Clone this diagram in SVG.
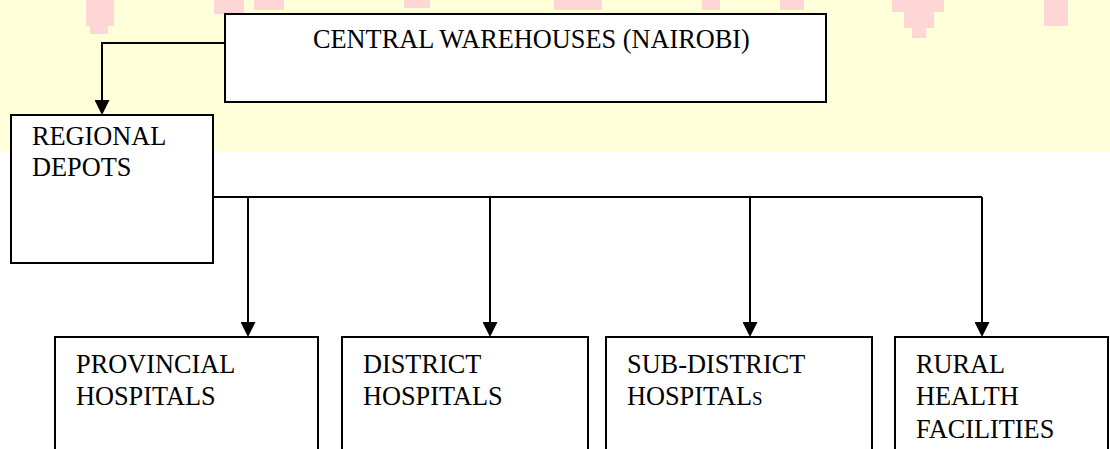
<svg xmlns="http://www.w3.org/2000/svg" width="1110" height="449" viewBox="0 0 1110 449">
  <style>
    .box { fill: #ffffff; stroke: #000000; stroke-width: 2; }
    .lbl { font-family: "Liberation Serif", "Times New Roman", Times, "DejaVu Serif", serif; font-size: 26.3px; fill: #000000; }
    .conn { fill: none; stroke: #000000; stroke-width: 2; }
    .wm { fill: #ffd6d6; }
  </style>
  <defs>
    <marker id="arr" viewBox="0 0 15 15" refX="13" refY="7.5" markerWidth="15" markerHeight="15" markerUnits="userSpaceOnUse" orient="auto">
      <path d="M0,0 L15,7.5 L0,15 Z" fill="#000000"/>
    </marker>
  </defs>

  <rect x="0" y="0" width="1110" height="449" fill="#ffffff"/>
  <rect x="0" y="0" width="1110" height="151" fill="#ffffda"/>
  <g id="watermark">
    <rect class="wm" x="86" y="0" width="28" height="26"/>
    <rect class="wm" x="90" y="26" width="18" height="8"/>
    <rect class="wm" x="214" y="0" width="30" height="14"/>
    <rect class="wm" x="254" y="0" width="30" height="10"/>
    <rect class="wm" x="404" y="0" width="26" height="8"/>
    <rect class="wm" x="554" y="0" width="48" height="10"/>
    <rect class="wm" x="702" y="0" width="18" height="10"/>
    <rect class="wm" x="780" y="0" width="24" height="10"/>
    <rect class="wm" x="892" y="0" width="52" height="12"/>
    <rect class="wm" x="904" y="12" width="30" height="16"/>
    <rect class="wm" x="912" y="28" width="14" height="10"/>
    <rect class="wm" x="1044" y="0" width="24" height="26"/>
  </g>

  <g id="connectors">
    <path class="conn" d="M225,43 H102 V113" marker-end="url(#arr)"/>
    <path class="conn" d="M213,197 H982"/>
    <path class="conn" d="M248,197 V335" marker-end="url(#arr)"/>
    <path class="conn" d="M490,197 V335" marker-end="url(#arr)"/>
    <path class="conn" d="M750,197 V335" marker-end="url(#arr)"/>
    <path class="conn" d="M982,197 V335" marker-end="url(#arr)"/>
  </g>

  <g id="central">
    <rect class="box" x="225" y="14" width="601" height="88"/>
    <text class="lbl" x="313" y="48">CENTRAL WAREHOUSES (NAIROBI)</text>
  </g>

  <g id="regional">
    <rect class="box" x="11" y="115" width="202" height="148"/>
    <text class="lbl" x="32" y="145">REGIONAL</text>
    <text class="lbl" x="32" y="176">DEPOTS</text>
  </g>

  <g id="provincial">
    <rect class="box" x="55" y="337" width="263" height="150"/>
    <text class="lbl" x="76" y="373">PROVINCIAL</text>
    <text class="lbl" x="76" y="405">HOSPITALS</text>
  </g>

  <g id="district">
    <rect class="box" x="342" y="337" width="246" height="150"/>
    <text class="lbl" x="363" y="373">DISTRICT</text>
    <text class="lbl" x="363" y="405">HOSPITALS</text>
  </g>

  <g id="subdistrict">
    <rect class="box" x="606" y="337" width="266" height="150"/>
    <text class="lbl" x="627" y="373">SUB-DISTRICT</text>
    <text class="lbl" x="627" y="405">HOSPITAL<tspan font-size="19px">S</tspan></text>
  </g>

  <g id="rural">
    <rect class="box" x="895" y="337" width="213" height="150"/>
    <text class="lbl" x="916" y="373">RURAL</text>
    <text class="lbl" x="916" y="405">HEALTH</text>
    <text class="lbl" x="916" y="438">FACILITIES</text>
  </g>
</svg>
